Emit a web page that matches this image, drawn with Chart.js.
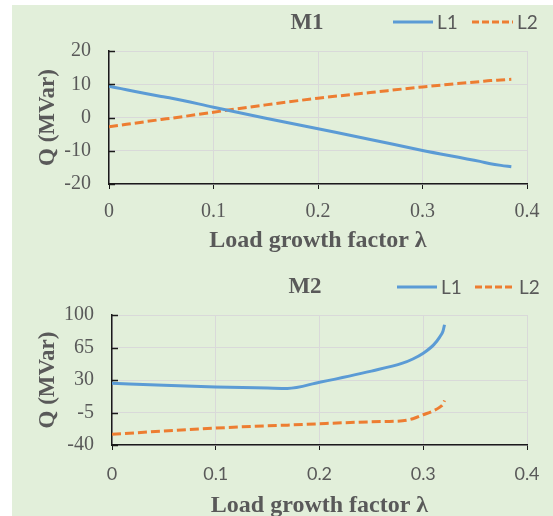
<!DOCTYPE html>
<html>
<head>
<meta charset="utf-8">
<script src="https://cdn.jsdelivr.net/npm/chart.js@4.4.1/dist/chart.umd.min.js"></script>
<style>
  html, body { margin: 0; padding: 0; background: #fff; overflow: hidden; }
  #page { position: relative; width: 553px; height: 516px; overflow: hidden; }
  #bg   { position: absolute; left: 12px; top: 5px; right: 0; bottom: 0; background: #e2efda; }
  canvas { position: absolute; left: 0; }
  #c1 { top: 0; }
  #c2 { top: 258px; }
</style>
</head>
<body>
<div id="page">
  <div id="bg"></div>
  <canvas id="c1" width="553" height="258"></canvas>
  <canvas id="c2" width="553" height="262"></canvas>
</div>
<script>
'use strict';

// ── Data ──────────────────────────────────────────────────
const X_TICKS    = [0, 0.1, 0.2, 0.3, 0.4];
const M1_Y_TICKS = [-20, -10, 0, 10, 20];
const M2_Y_TICKS = [-40, -5, 30, 65, 100];

const M1_LAMBDA = [0, 0.05, 0.06, 0.1, 0.15, 0.2, 0.25, 0.3, 0.355, 0.365, 0.375, 0.385];
const M1_L1     = [9.4, 6.3, 5.8, 3.1, -0.2, -3.4, -6.6, -9.9, -13.2, -13.9, -14.4, -14.8];
const M1_L2     = [-2.8, -0.6, -0.2, 1.6, 3.8, 5.8, 7.5, 9.2, 10.8, 11.1, 11.3, 11.5];

const M2_LAMBDA = [0, 0.05, 0.1, 0.15, 0.169, 0.2, 0.25, 0.28, 0.29, 0.3, 0.31, 0.316, 0.319, 0.3205];
const M2_L1     = [26.4, 24.3, 22.5, 21.3, 20.9, 27.6, 39.6, 48.1, 52.6, 58.8, 67.8, 76.5, 82.5, 89.5];
const M2_L2     = [-28.5, -25, -21.8, -19.3, -18.6, -17.1, -15.0, -13.9, -11.7, -7.4, -3.1, 0.8, 4.0, 7.9];

// ── Style ─────────────────────────────────────────────────
const BLUE   = '#5b9bd5';
const ORANGE = '#ed7d31';
const TEXT   = '#595959';
const GRID   = '#d9d9d9';
const AXIS   = '#1a1a1a';
const SERIF  = "'Liberation Serif', 'Times New Roman', serif";
const SANS   = "Lato, 'Open Sans', sans-serif";

function pts(xs, ys) {
  return xs.map((x, i) => ({ x, y: ys[i] }));
}

// ── Title + legend drawn on the canvas ───────────────────
function headerPlugin(h) {
  return {
    id: 'header',
    afterDraw(chart) {
      const ctx = chart.ctx;
      ctx.save();
      ctx.fillStyle    = TEXT;
      ctx.textBaseline = 'middle';
      ctx.textAlign    = 'center';
      ctx.font = `bold 23px ${SERIF}`;
      ctx.fillText(h.title, h.titleX, h.titleY);

      ctx.font      = `19px ${SANS}`;
      ctx.textAlign = 'left';
      ctx.lineWidth = 3;
      chart.data.datasets.forEach((ds, i) => {
        const [x0, x1] = h.entries[i];
        ctx.strokeStyle = ds.borderColor;
        ctx.setLineDash(ds.legendDash || []);
        ctx.beginPath();
        ctx.moveTo(x0, h.legendY);
        ctx.lineTo(x1, h.legendY);
        ctx.stroke();
        ctx.fillText(ds.label, x1 + 4, h.legendY + 1);
      });
      ctx.restore();
    }
  };
}

// y ticks point inwards, like the original
const innerTicks = {
  id: 'innerTicks',
  afterDatasetsDraw(chart) {
    const { ctx, chartArea, scales } = chart;
    ctx.save();
    ctx.strokeStyle = AXIS;
    ctx.lineWidth = 1.5;
    scales.y.ticks.forEach(t => {
      const py = Math.round(scales.y.getPixelForValue(t.value)) + 0.5;
      ctx.beginPath();
      ctx.moveTo(chartArea.left, py);
      ctx.lineTo(chartArea.left + 6, py);
      ctx.stroke();
    });
    ctx.restore();
  }
};

// ── Chart factory ─────────────────────────────────────────
function makeChart(id, o) {
  const line = { borderWidth: 3, pointRadius: 0, cubicInterpolationMode: 'monotone', fill: false };
  return new Chart(document.getElementById(id), {
    type: 'line',
    data: {
      datasets: [
        { ...line, label: 'L1', data: pts(o.lambda, o.l1), borderColor: BLUE },
        { ...line, label: 'L2', data: pts(o.lambda, o.l2), borderColor: ORANGE, borderDash: [9, 4], legendDash: [7, 3] }
      ]
    },
    options: {
      responsive: false, animation: false, devicePixelRatio: 1,
      layout: { padding: { top: o.top, right: 26, left: 0, bottom: 0 } },
      plugins: { legend: { display: false }, tooltip: { enabled: false } },
      scales: {
        x: {
          type: 'linear', min: 0, max: 0.4,
          afterBuildTicks: s => { s.ticks = X_TICKS.map(v => ({ value: v })); },
          afterFit: s => { s.height = o.xHeight; },
          grid:   { color: GRID, tickColor: AXIS, tickLength: 5, lineWidth: 1 },
          border: { color: AXIS, width: 1.5 },
          ticks:  { color: TEXT, font: o.xFont, padding: o.xPad, maxRotation: 0, callback: v => String(v) },
          title:  {
            display: true, text: 'Load growth factor λ', color: TEXT,
            font: { family: SERIF, size: 24, weight: 'bold' },
            padding: { top: 0, bottom: o.xTitlePad }
          }
        },
        y: {
          type: 'linear', min: o.yTicks[0], max: o.yTicks[o.yTicks.length - 1],
          afterBuildTicks: s => { s.ticks = o.yTicks.map(v => ({ value: v })); },
          afterFit: s => { s.width = o.yWidth; },
          grid:   { color: GRID, drawTicks: false, lineWidth: 1 },
          border: { color: AXIS, width: 1.5 },
          ticks:  { color: TEXT, font: { family: SERIF, size: 20 }, padding: 18 },
          title:  {
            display: true, text: 'Q (MVar)', color: TEXT,
            font: { family: SERIF, size: 23, weight: 'bold' },
            padding: { top: 34, bottom: 0 }
          }
        }
      }
    },
    plugins: [headerPlugin(o.header), innerTicks]
  });
}

// ── Render ────────────────────────────────────────────────
makeChart('c1', {
  lambda: M1_LAMBDA, l1: M1_L1, l2: M1_L2, yTicks: M1_Y_TICKS,
  top: 51, yWidth: 109, xHeight: 74, xPad: 11, xTitlePad: 3,
  xFont: { family: SERIF, size: 20 },
  header: { title: 'M1', titleX: 307, titleY: 23, legendY: 22, entries: [[393, 433], [472, 513]] }
});

makeChart('c2', {
  lambda: M2_LAMBDA, l1: M2_L1, l2: M2_L2, yTicks: M2_Y_TICKS,
  top: 57, yWidth: 112, xHeight: 75, xPad: 13, xTitlePad: 0,
  xFont: { family: SANS, size: 18 },
  header: { title: 'M2', titleX: 305, titleY: 29, legendY: 29, entries: [[397, 437], [475, 515]] }
});
</script>
</body>
</html>
